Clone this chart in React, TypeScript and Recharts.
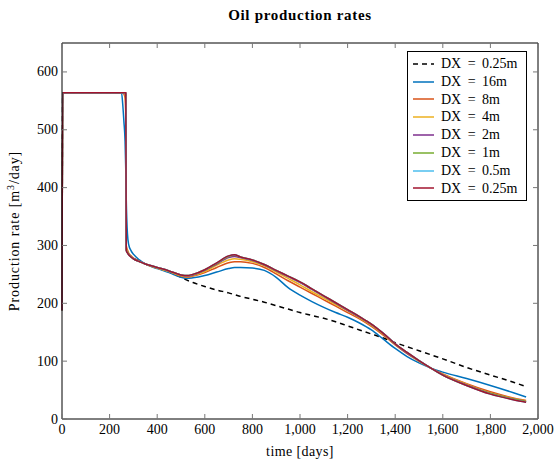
import React from "react";
import { LineChart, Line, XAxis, YAxis } from "recharts";

// Simulation time (days) shared by every run
const days = [
  0, 3, 250, 255, 260, 265, 268, 270, 275, 280, 290, 300, 325, 350, 400, 450,
  500, 525, 550, 600, 650, 700, 725, 750, 800, 850, 900, 950, 1000, 1050, 1100,
  1150, 1200, 1250, 1300, 1350, 1400, 1450, 1500, 1550, 1600, 1700, 1800, 1900,
  1950,
];

// Oil rates, m3/day
const refFine = [
  188, 564, 564, 564, 564, 564, 564, 292, 288, 285, 281, 278, 273, 268, 261,
  254, 245, 240, 236, 229, 223, 218, 215, 212, 207, 202, 196, 190, 184, 179, 174,
  168, 161, 154, 147, 140, 132, 125, 118, 111, 104, 89, 76, 63, 56,
];
const dx16 = [
  188, 564, 564, 545, 515, 480, 430, 380, 320, 302, 291, 285, 275, 268, 260,
  253, 245, 243, 244, 248, 254, 260, 262, 262, 261, 257, 245, 227, 214, 203, 193,
  184, 176, 166, 154, 138, 122, 108, 97, 88, 81, 70, 58, 45, 38,
];
const dx8 = [
  188, 564, 564, 564, 562, 555, 520, 300, 292, 287, 282, 278, 273, 268, 261,
  255, 247, 245, 247, 253, 262, 270, 272, 272, 269, 262, 251, 239, 228, 217, 206,
  195, 184, 173, 160, 145, 128, 113, 100, 88, 78, 61, 47, 36, 32,
];
const dx4 = [
  188, 564, 564, 564, 564, 562, 545, 295, 290, 286, 281, 277, 272, 268, 261,
  255, 248, 246, 248, 255, 266, 275, 277, 276, 272, 265, 254, 243, 232, 220, 209,
  198, 187, 175, 162, 147, 129, 114, 100, 88, 77, 60, 45, 35, 31,
];
const dx2 = [
  188, 564, 564, 564, 564, 564, 555, 293, 288, 285, 280, 277, 272, 268, 262,
  256, 249, 247, 249, 257, 268, 279, 281, 279, 274, 266, 256, 246, 236, 224, 212,
  200, 188, 176, 163, 148, 130, 114, 101, 88, 76, 59, 44, 34, 30,
];
const dx1 = [
  188, 564, 564, 564, 564, 564, 560, 292, 288, 285, 280, 277, 272, 268, 262,
  256, 249, 248, 250, 258, 269, 281, 283, 280, 275, 267, 257, 247, 237, 225, 213,
  201, 189, 177, 164, 148, 130, 115, 101, 88, 76, 58, 44, 34, 30,
];
const dx05 = [
  188, 564, 564, 564, 564, 564, 562, 291, 287, 284, 280, 277, 272, 268, 262,
  256, 249, 248, 250, 258, 270, 282, 284, 280, 275, 267, 257, 247, 237, 225, 213,
  201, 189, 177, 164, 148, 130, 115, 101, 88, 76, 58, 43, 33, 29,
];
const dx025 = [
  188, 564, 564, 564, 564, 564, 564, 291, 287, 284, 280, 277, 272, 268, 262,
  256, 249, 248, 250, 258, 270, 282, 284, 280, 275, 267, 257, 247, 237, 225, 213,
  201, 189, 177, 164, 148, 130, 115, 101, 88, 76, 58, 43, 33, 29,
];

const xTicks = [0, 200, 400, 600, 800, 1000, 1200, 1400, 1600, 1800, 2000];
const yTicks = [0, 100, 200, 300, 400, 500, 600];

// the dashed run sits on the mirrored top/right axes so they get drawn too
const SERIES = [
  { key: "refFine", name: "DX = 0.25m", color: "#000000", dash: "5 4", values: refFine, mirror: true },
  { key: "dx16", name: "DX = 16m", color: "#0072BD", dash: undefined, values: dx16, mirror: false },
  { key: "dx8", name: "DX = 8m", color: "#D95319", dash: undefined, values: dx8, mirror: false },
  { key: "dx4", name: "DX = 4m", color: "#EDB120", dash: undefined, values: dx4, mirror: false },
  { key: "dx2", name: "DX = 2m", color: "#7E2F8E", dash: undefined, values: dx2, mirror: false },
  { key: "dx1", name: "DX = 1m", color: "#77AC30", dash: undefined, values: dx1, mirror: false },
  { key: "dx05", name: "DX = 0.5m", color: "#4DBEEE", dash: undefined, values: dx05, mirror: false },
  { key: "dx025", name: "DX = 0.25m", color: "#A2142F", dash: undefined, values: dx025, mirror: false },
];

const data = days.map((t, i) => {
  const row: Record<string, number> = { t };
  for (const s of SERIES) row[s.key] = s.values[i];
  return row;
});

const FONT = "'Liberation Serif', serif";
const FS = 14;
const TICK_LEN = 5;
const TICK_COLOR = "#777";

// ticks point into the plot, labels sit outside (pgfplots style)
const BottomTick = (props: any) => {
  const { x, y, payload } = props;
  return (
    <g>
      <line x1={x} y1={y} x2={x} y2={y - TICK_LEN} stroke={TICK_COLOR} />
      <text x={x} y={y + 15} textAnchor="middle" fontFamily={FONT} fontSize={FS} fill="#000">
        {Number(payload.value).toLocaleString("en-US")}
      </text>
    </g>
  );
};
const TopTick = (props: any) => {
  const { x, y } = props;
  return <line x1={x} y1={y} x2={x} y2={y + TICK_LEN} stroke={TICK_COLOR} />;
};
const LeftTick = (props: any) => {
  const { x, y, payload } = props;
  return (
    <g>
      <line x1={x} y1={y} x2={x + TICK_LEN} y2={y} stroke={TICK_COLOR} />
      <text x={x - 4} y={y + 4.5} textAnchor="end" fontFamily={FONT} fontSize={FS} fill="#000">
        {payload.value}
      </text>
    </g>
  );
};
const RightTick = (props: any) => {
  const { x, y } = props;
  return <line x1={x} y1={y} x2={x - TICK_LEN} y2={y} stroke={TICK_COLOR} />;
};

const LegendBox = () => (
  <div
    style={{
      position: "absolute",
      top: 51,
      left: 407,
      width: 120,
      height: 150,
      border: "1px solid #000",
      background: "#fff",
      padding: "3px 0 0 4px",
      boxSizing: "border-box",
      fontFamily: FONT,
      fontSize: FS,
      lineHeight: "17.8px",
    }}
  >
    {SERIES.map((s) => (
      <div key={s.key} style={{ display: "flex", alignItems: "center", whiteSpace: "nowrap" }}>
        <svg width={23} height={10} style={{ marginRight: 6 }}>
          <line x1={1} y1={5} x2={22} y2={5} stroke={s.color} strokeWidth={1.5} strokeDasharray={s.dash} />
        </svg>
        <span style={{ wordSpacing: 3 }}>{s.name}</span>
      </div>
    ))}
  </div>
);

export default function App() {
  return (
    <div style={{ position: "absolute", left: 0, top: 0, width: 556, height: 461, background: "#fff" }}>
      <div
        style={{
          position: "absolute",
          top: 7,
          left: 62,
          width: 476,
          textAlign: "center",
          fontFamily: FONT,
          fontWeight: "bold",
          fontSize: 15,
          letterSpacing: 0.7,
        }}
      >
        Oil production rates
      </div>
      <LineChart width={556} height={461} data={data} margin={{ top: 42, right: 17, bottom: 0, left: 0 }}>
        <XAxis
          dataKey="t"
          type="number"
          domain={[0, 2000]}
          ticks={xTicks}
          height={42}
          tickSize={0}
          tickMargin={0}
          tickLine={false}
          axisLine={{ stroke: "#000" }}
          tick={BottomTick}
          interval={0}
          label={{
            value: "time [days]",
            position: "insideBottom",
            offset: 5,
            fontFamily: FONT,
            fontSize: FS,
            letterSpacing: 0.4,
            fill: "#000",
          }}
        />
        <XAxis
          xAxisId="top"
          orientation="top"
          dataKey="t"
          type="number"
          domain={[0, 2000]}
          ticks={xTicks}
          height={1}
          tickSize={0}
          tickMargin={0}
          tickLine={false}
          axisLine={{ stroke: "#000" }}
          tick={TopTick}
          interval={0}
        />
        <YAxis
          type="number"
          domain={[0, 650]}
          ticks={yTicks}
          width={62}
          tickSize={0}
          tickMargin={0}
          tickLine={false}
          axisLine={{ stroke: "#000" }}
          tick={LeftTick}
          interval={0}
          label={(props: any) => {
            const vb = props.viewBox;
            const cx = 19;
            const cy = vb.y + vb.height / 2;
            return (
              <text
                x={cx}
                y={cy}
                transform={`rotate(-90 ${cx} ${cy})`}
                textAnchor="middle"
                fontFamily={FONT}
                fontSize={FS}
                letterSpacing={0.9}
                fill="#000"
              >
                Production rate [m
                <tspan dy={-5} fontSize={10}>3</tspan>
                <tspan dy={5}>/day]</tspan>
              </text>
            );
          }}
        />
        <YAxis
          yAxisId="right"
          orientation="right"
          type="number"
          domain={[0, 650]}
          ticks={yTicks}
          width={1}
          tickSize={0}
          tickMargin={0}
          tickLine={false}
          axisLine={{ stroke: "#000" }}
          tick={RightTick}
          interval={0}
        />
        {SERIES.map((s) => (
          <Line
            key={s.key}
            xAxisId={s.mirror ? "top" : 0}
            yAxisId={s.mirror ? "right" : 0}
            type="monotone"
            dataKey={s.key}
            name={s.name}
            stroke={s.color}
            strokeWidth={1.5}
            strokeDasharray={s.dash}
            dot={false}
            activeDot={false}
            isAnimationActive={false}
          />
        ))}
      </LineChart>
      <LegendBox />
    </div>
  );
}
